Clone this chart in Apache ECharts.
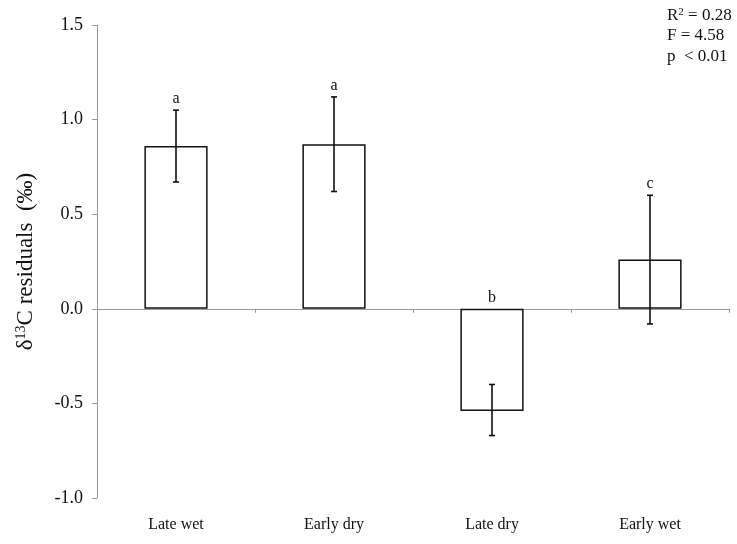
<!DOCTYPE html>
<html><head><meta charset="utf-8">
<script src="https://cdn.jsdelivr.net/npm/echarts@6/dist/echarts.min.js"></script>
<style>html,body{margin:0;padding:0;background:#fff}#c{width:737px;height:544px}</style>
</head><body><div id="c"></div>
<script>
const categories = ['Late wet', 'Early dry', 'Late dry', 'Early wet'];
const means = [0.86, 0.87, -0.54, 0.26];
const errLow = [0.67, 0.62, -0.67, -0.08];
const errHigh = [1.05, 1.12, -0.40, 0.60];
const letters = ['a', 'a', 'b', 'c'];
const yTicks = { min: -1.0, max: 1.5, interval: 0.5 };
const statsLines = ['R{s|2} = 0.28', 'F = 4.58', 'p  < 0.01'];

const FONT = '"Liberation Serif", "Times New Roman", serif';
const chart = echarts.init(document.getElementById('c'));
const errData = categories.map((c, i) => [i, errLow[i], errHigh[i], letters[i]]);

chart.setOption({
  animation: false,
  grid: { left: 97, right: 8, top: 25, bottom: 46, containLabel: false },
  xAxis: [
    { type: 'category', data: categories, position: 'bottom',
      axisLine: { show: false, onZero: false }, axisTick: { show: false },
      axisLabel: { fontFamily: FONT, fontSize: 16, color: '#111', margin: 19 } },
    { type: 'category', data: categories, position: 'bottom',
      axisLine: { show: true, onZero: true, lineStyle: { color: '#999', width: 1 } },
      axisTick: { show: true, length: 4, lineStyle: { color: '#999' } },
      axisLabel: { show: false } }
  ],
  yAxis: {
    type: 'value', min: yTicks.min, max: yTicks.max, interval: yTicks.interval,
    splitLine: { show: false },
    axisLine: { show: true, lineStyle: { color: '#999', width: 1 } },
    axisTick: { show: true, length: 5, lineStyle: { color: '#999' } },
    axisLabel: { fontFamily: FONT, fontSize: 18, color: '#111', margin: 14,
      formatter: v => v.toFixed(1) },
    name: '{d|δ}{s|13}{d|C residuals  (‰)}', nameLocation: 'middle', nameGap: 60,
    nameTextStyle: { rich: {
      d: { fontFamily: FONT, fontSize: 23, color: '#111' },
      s: { fontFamily: FONT, fontSize: 14, color: '#111', verticalAlign: 'top', padding: [0, 0, 9, 0] }
    } }
  },
  series: [
    { type: 'bar', data: means, barWidth: '40%', xAxisIndex: 0,
      itemStyle: { color: '#fff', borderColor: '#111', borderWidth: 1.5 } },
    { type: 'custom', xAxisIndex: 0, data: errData, z: 10,
      renderItem: (params, api) => {
        const x = api.value(0);
        const lo = api.coord([x, api.value(1)]);
        const hi = api.coord([x, api.value(2)]);
        const top = api.coord([x, Math.max(api.value(2), 0)]);
        const cap = 3;
        const st = { stroke: '#111', lineWidth: 1.6 };
        return { type: 'group', children: [
          { type: 'line', shape: { x1: lo[0], y1: lo[1], x2: hi[0], y2: hi[1] }, style: st },
          { type: 'line', shape: { x1: lo[0] - cap, y1: lo[1], x2: lo[0] + cap, y2: lo[1] }, style: st },
          { type: 'line', shape: { x1: hi[0] - cap, y1: hi[1], x2: hi[0] + cap, y2: hi[1] }, style: st },
          { type: 'text', x: top[0], y: top[1] - 3,
            style: { text: api.value(3), fontFamily: FONT, fontSize: 16, fill: '#111',
              align: 'center', verticalAlign: 'bottom' } }
        ] };
      } }
  ],
  graphic: statsLines.map((t, i) => ({
    type: 'text', left: 667, top: 7 + i * 20.5,
    style: { text: t, fontFamily: FONT, fontSize: 17, fill: '#111',
      rich: { s: { fontFamily: FONT, fontSize: 11, fill: '#111', verticalAlign: 'top', padding: [0, 0, 7, 0] } } }
  }))
});
</script></body></html>
